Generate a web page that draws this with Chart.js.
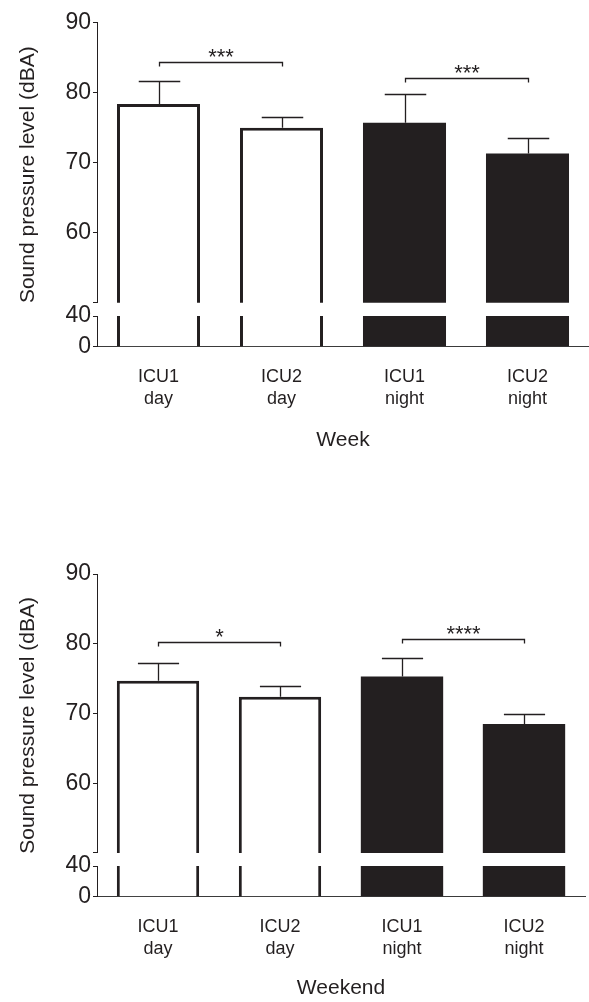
<!DOCTYPE html>
<html>
<head>
<meta charset="utf-8">
<script src="https://cdn.jsdelivr.net/npm/chart.js@4.4.1/dist/chart.umd.min.js"></script>
<style>
  body { margin: 0; background: #fff; }
  canvas { display: block; }
</style>
</head>
<body>
<canvas id="weekChart" width="589" height="551"></canvas>
<canvas id="weekendChart" width="589" height="451"></canvas>
<script>
// values (mean and upper SD, dBA)
const categories = [['ICU1', 'day'], ['ICU2', 'day'], ['ICU1', 'night'], ['ICU2', 'night']];
const weekMeans = [78.4, 75.0, 75.7, 71.3];
const weekSd = [3.3, 1.6, 4.1, 2.3];
const weekendMeans = [74.7, 72.4, 75.3, 68.5];
const weekendSd = [2.5, 1.6, 2.6, 1.4];
// [from bar, to bar, height in dBA, stars]
const weekBrackets = [[0, 1, 84.4, '***'], [2, 3, 82.1, '***']];
const weekendBrackets = [[0, 1, 80.3, '*'], [2, 3, 80.7, '****']];
const upperTicks = [50, 60, 70, 80, 90];
const lowerTicks = [0, 40];
const yTitle = 'Sound pressure level (dBA)';

const ink = '#231f20';
const fills = ['#ffffff', '#ffffff', ink, ink];
const borders = [3, 3, 0, 0];
const family = '"Liberation Sans", Arial, sans-serif';

// error bars + significance brackets, drawn through the chart scales
const errorBars = {
    id: 'errorBars',
    afterDatasetsDraw(chart, args, opts) {
        const ctx = chart.ctx;
        const x = chart.scales.x;
        const y = chart.scales.yTop;
        const bars = chart.getDatasetMeta(0).data;
        const means = chart.data.datasets[0].data;
        ctx.save();
        ctx.strokeStyle = ink;
        ctx.lineWidth = 1.3;
        means.forEach((m, i) => {
            const cx = Math.round(bars[i].x) + 0.5;
            const half = bars[i].width / 4;
            const y0 = y.getPixelForValue(m);
            const y1 = Math.round(y.getPixelForValue(m + opts.sd[i])) + 0.5;
            ctx.beginPath();
            ctx.moveTo(cx, y0);
            ctx.lineTo(cx, y1);
            ctx.moveTo(cx - half, y1);
            ctx.lineTo(cx + half, y1);
            ctx.stroke();
        });
        ctx.fillStyle = ink;
        ctx.font = '22px ' + family;
        ctx.textAlign = 'center';
        ctx.textBaseline = 'alphabetic';
        opts.brackets.forEach(([a, b, v, stars]) => {
            const xa = Math.round(x.getPixelForValue(a)) + 0.5;
            const xb = Math.round(x.getPixelForValue(b)) + 0.5;
            const yy = Math.round(y.getPixelForValue(v)) + 0.5;
            ctx.beginPath();
            ctx.moveTo(xa, yy + 4);
            ctx.lineTo(xa, yy);
            ctx.lineTo(xb, yy);
            ctx.lineTo(xb, yy + 4);
            ctx.stroke();
            ctx.fillText(stars, (xa + xb) / 2, yy + 1);
        });
        ctx.restore();
    }
};

// one y title spanning both halves of the broken axis
const axisTitle = {
    id: 'axisTitle',
    afterDraw(chart) {
        const ctx = chart.ctx;
        const mid = (chart.scales.yTop.top + chart.scales.yBot.bottom) / 2 - 10;
        ctx.save();
        ctx.translate(28, mid);
        ctx.rotate(-Math.PI / 2);
        ctx.fillStyle = ink;
        ctx.font = '21px ' + family;
        ctx.textAlign = 'center';
        ctx.textBaseline = 'middle';
        ctx.fillText(yTitle, 0, 0);
        ctx.restore();
    }
};

function yAxis(weight, stackWeight, min, max, tickList) {
    return {
        type: 'linear',
        position: 'left',
        stack: 'y',
        stackWeight: stackWeight,
        weight: weight,
        min: min,
        max: max,
        afterBuildTicks: s => { s.ticks = tickList.map(v => ({ value: v })); },
        afterFit: s => { s.width = 97; },
        grid: { drawOnChartArea: false, drawTicks: true, tickLength: 4, color: ink, lineWidth: 1 },
        border: { color: ink, width: 1 },
        ticks: {
            color: ink,
            padding: 2,
            autoSkip: false,
            font: { family: family, size: 23 },
            callback: v => (v === 50 ? '' : v)
        }
    };
}

function makeChart(id, means, sd, brackets, xTitle, pad, xHeight) {
    const dataset = axis => ({
        data: means,
        yAxisID: axis,
        backgroundColor: fills,
        borderColor: ink,
        borderWidth: borders,
        borderSkipped: 'start',
        barPercentage: 0.675,
        categoryPercentage: 1,
        grouped: false,
        clip: 0
    });
    return new Chart(document.getElementById(id), {
        type: 'bar',
        data: { labels: categories, datasets: [dataset('yTop'), dataset('yBot')] },
        options: {
            responsive: false,
            animation: false,
            layout: { padding: pad },
            plugins: {
                legend: { display: false },
                tooltip: { enabled: false },
                errorBars: { sd: sd, brackets: brackets }
            },
            scales: {
                x: {
                    type: 'category',
                    offset: true,
                    grid: { display: false, drawTicks: false },
                    border: { color: '#3a3a3a', width: 1 },
                    ticks: {
                        color: ink,
                        padding: 20,
                        maxRotation: 0,
                        autoSkip: false,
                        font: { family: family, size: 18, lineHeight: 1.2 }
                    },
                    title: { display: true, text: xTitle, color: ink, padding: 0, font: { family: family, size: 21 } },
                    afterFit: s => { s.height = xHeight; }
                },
                yTop: yAxis(3, 280, 50, 90, upperTicks),
                yMid: { type: 'linear', position: 'left', stack: 'y', stackWeight: 13.3, weight: 2, display: false },
                yBot: yAxis(1, 30.7, 0, 40, lowerTicks)
            }
        },
        plugins: [errorBars, axisTitle]
    });
}

makeChart('weekChart', weekMeans, weekSd, weekBrackets, 'Week',
    { top: 22.7, left: 0, right: 0, bottom: 98 }, 106.3);
makeChart('weekendChart', weekendMeans, weekendSd, weekendBrackets, 'Weekend',
    { top: 23, left: 0, right: 4, bottom: 1.4 }, 103.9);
</script>
</body>
</html>
